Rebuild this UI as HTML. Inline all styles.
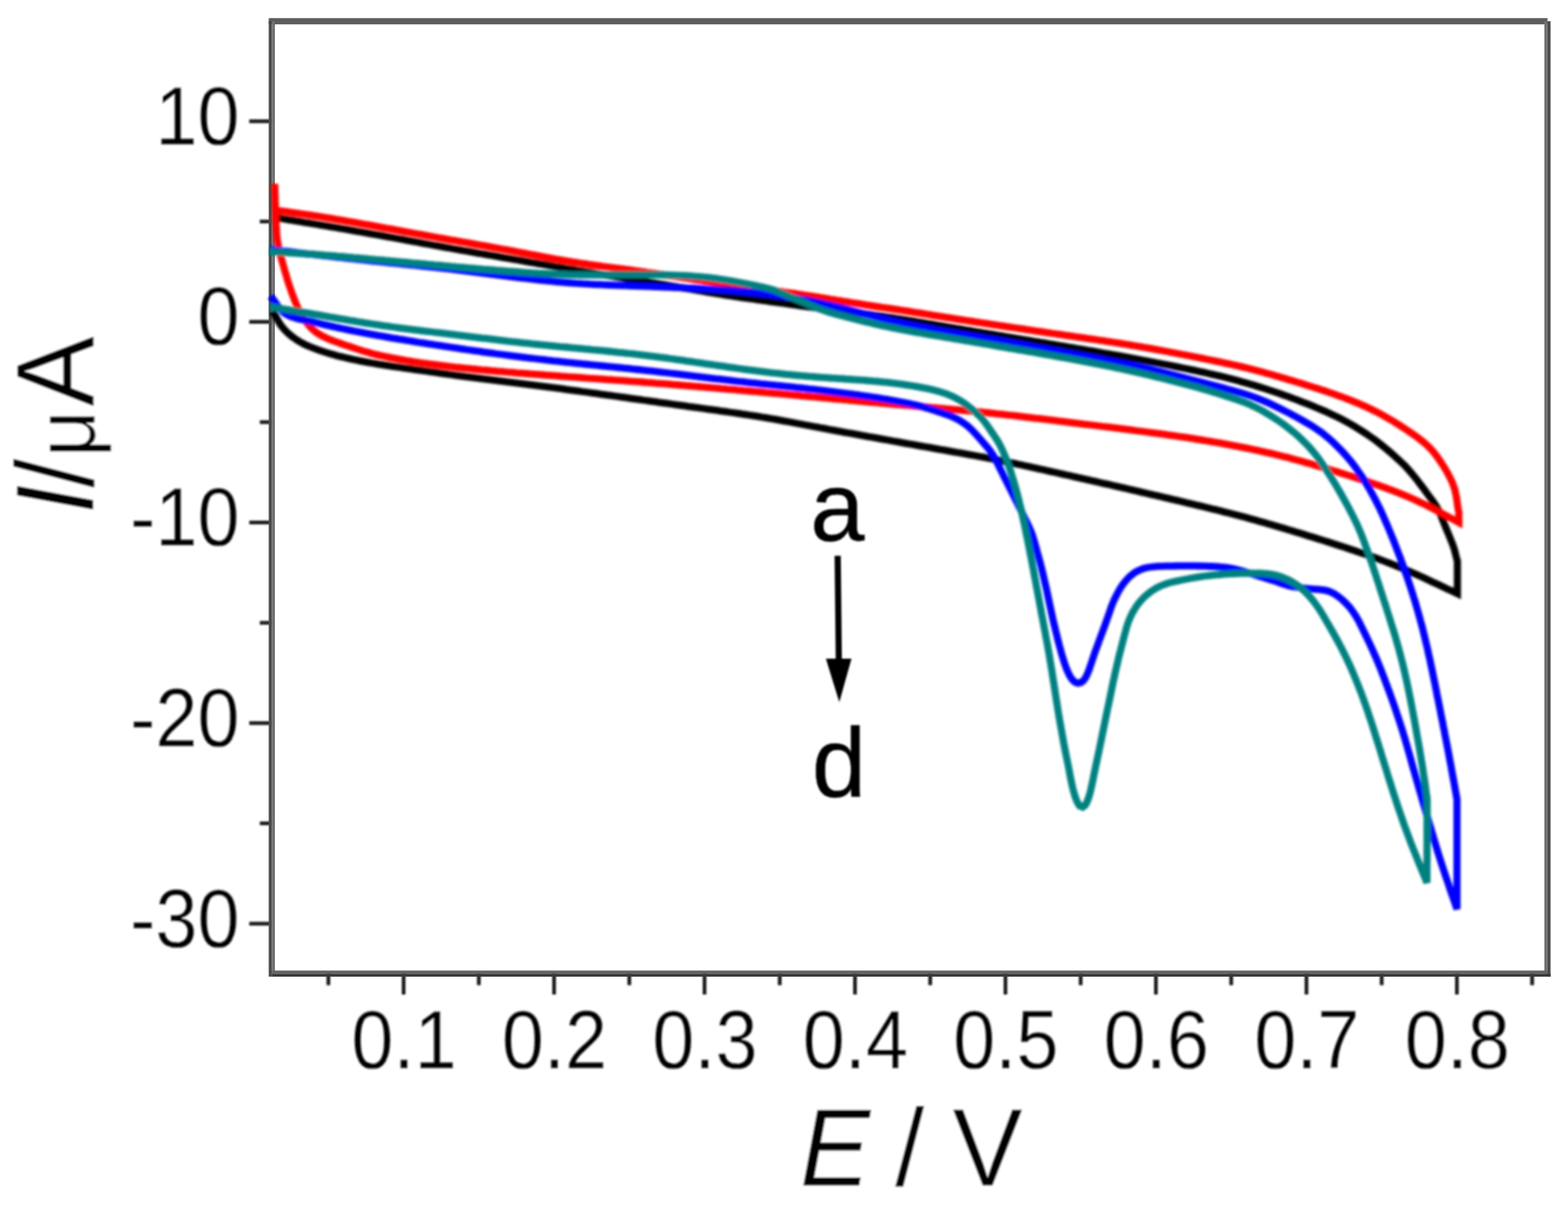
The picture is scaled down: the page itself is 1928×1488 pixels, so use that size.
<!DOCTYPE html>
<html lang="en">
<head>
<meta charset="utf-8">
<title>Cyclic voltammograms</title>
<style>
html,body{margin:0;padding:0;background:#fff;}
body{width:1928px;height:1488px;overflow:hidden;font-family:"Liberation Sans",sans-serif;}
svg{display:block;}
</style>
</head>
<body>
<svg width="1928" height="1488" viewBox="0 0 1928 1488">
<defs><filter id="bk" filterUnits="userSpaceOnUse" x="0" y="0" width="1928" height="1488"><feGaussianBlur stdDeviation="0.90"/></filter><filter id="bc" filterUnits="userSpaceOnUse" x="0" y="0" width="1928" height="1488"><feGaussianBlur stdDeviation="1.40"/></filter><filter id="bt" filterUnits="userSpaceOnUse" x="0" y="0" width="1928" height="1488"><feGaussianBlur stdDeviation="1.20"/></filter></defs>
<rect x="0" y="0" width="1928" height="1488" fill="#fff"/>
<g id="ticks" filter="url(#bk)" stroke="#1c1c1c" fill="none" stroke-width="4.6">
<line x1="496.3" y1="1197.3" x2="496.3" y2="1223.0"/>
<line x1="681.3" y1="1197.3" x2="681.3" y2="1223.0"/>
<line x1="866.3" y1="1197.3" x2="866.3" y2="1223.0"/>
<line x1="1051.3" y1="1197.3" x2="1051.3" y2="1223.0"/>
<line x1="1236.3" y1="1197.3" x2="1236.3" y2="1223.0"/>
<line x1="1421.3" y1="1197.3" x2="1421.3" y2="1223.0"/>
<line x1="1606.4" y1="1197.3" x2="1606.4" y2="1223.0"/>
<line x1="1791.4" y1="1197.3" x2="1791.4" y2="1223.0"/>
<line x1="403.8" y1="1197.3" x2="403.8" y2="1211.5"/>
<line x1="588.8" y1="1197.3" x2="588.8" y2="1211.5"/>
<line x1="773.8" y1="1197.3" x2="773.8" y2="1211.5"/>
<line x1="958.8" y1="1197.3" x2="958.8" y2="1211.5"/>
<line x1="1143.8" y1="1197.3" x2="1143.8" y2="1211.5"/>
<line x1="1328.8" y1="1197.3" x2="1328.8" y2="1211.5"/>
<line x1="1513.9" y1="1197.3" x2="1513.9" y2="1211.5"/>
<line x1="1698.9" y1="1197.3" x2="1698.9" y2="1211.5"/>
<line x1="1883.9" y1="1197.3" x2="1883.9" y2="1211.5"/>
<line x1="334.2" y1="149.1" x2="306.5" y2="149.1"/>
<line x1="334.2" y1="395.8" x2="306.5" y2="395.8"/>
<line x1="334.2" y1="642.5" x2="306.5" y2="642.5"/>
<line x1="334.2" y1="889.2" x2="306.5" y2="889.2"/>
<line x1="334.2" y1="1135.9" x2="306.5" y2="1135.9"/>
<line x1="334.2" y1="272.4" x2="319.5" y2="272.4"/>
<line x1="334.2" y1="519.1" x2="319.5" y2="519.1"/>
<line x1="334.2" y1="765.9" x2="319.5" y2="765.9"/>
<line x1="334.2" y1="1012.5" x2="319.5" y2="1012.5"/>
</g>
<g id="frame">
<rect x="330.45" y="22.30" width="1572.30" height="7.60" fill="#5c5c5c"/>
<rect x="330.45" y="26.10" width="3.80" height="1175.00" fill="#4a4a4a"/>
<rect x="334.25" y="26.10" width="3.80" height="1171.20" fill="#707070"/>
<rect x="1898.95" y="26.10" width="3.80" height="1171.20" fill="#707070"/>
<rect x="1902.75" y="26.10" width="3.80" height="1175.00" fill="#4a4a4a"/>
<rect x="334.25" y="1193.50" width="1568.50" height="3.80" fill="#646464"/>
<rect x="334.25" y="1197.30" width="1572.30" height="3.80" fill="#3a3a3a"/>
</g>
<g id="curves" filter="url(#bc)" fill="none" stroke-width="8.8" stroke-linejoin="miter" stroke-miterlimit="3" stroke-linecap="butt">
<path stroke="#000000" d="M335 383L337.2 386.3L339.3 389.8L341.2 393.3L343.2 396.7L345.4 400.1L347.9 403.2L350.6 406.2L353.4 409L356.4 411.6L359.5 414.2L362.8 416.5L366.1 418.7L369.5 420.8L373.1 422.7L376.7 424.4L380.3 426L384 427.5L387.8 429L391.5 430.3L395.3 431.7L399.1 432.9L402.9 434.1L406.8 435.2L410.6 436.3L414.5 437.4L418.4 438.4L422.3 439.3L426.2 440.2L430.1 441.1L434 442L437.9 442.8L441.8 443.6L445.7 444.3L449.7 445.1L453.6 445.8L457.6 446.5L461.5 447.1L465.4 447.8L469.4 448.4L473.3 449.1L477.3 449.7L481.3 450.3L485.2 450.9L489.2 451.4L493.1 452L497.1 452.6L501.1 453.1L505 453.7L509 454.3L513 454.8L516.9 455.4L520.9 456L524.8 456.5L528.8 457.1L532.8 457.6L536.7 458.2L540.7 458.8L544.6 459.3L548.6 459.9L552.6 460.5L556.5 461L560.5 461.6L564.5 462.1L568.4 462.6L572.4 463.2L576.4 463.7L580.3 464.2L584.3 464.7L588.3 465.2L592.2 465.7L596.2 466.2L600.2 466.7L604.2 467.2L608.1 467.7L612.1 468.2L616.1 468.7L620.1 469.2L624 469.6L628 470.1L632 470.6L635.9 471.1L639.9 471.6L643.9 472.1L647.9 472.6L651.8 473.1L655.8 473.6L659.8 474.1L663.7 474.6L667.7 475.1L671.7 475.6L675.6 476.1L679.6 476.7L683.6 477.2L687.5 477.7L691.5 478.2L695.5 478.8L699.4 479.3L703.4 479.8L707.4 480.4L711.3 480.9L715.3 481.5L719.3 482L723.2 482.5L727.2 483.1L731.2 483.6L735.1 484.2L739.1 484.8L743.1 485.3L747 485.9L751 486.4L755 487L758.9 487.5L762.9 488.1L766.8 488.6L770.8 489.2L774.8 489.8L778.7 490.3L782.7 490.9L786.7 491.4L790.6 492L794.6 492.5L798.5 493.1L802.5 493.7L806.5 494.2L810.4 494.8L814.4 495.3L818.4 495.9L822.3 496.4L826.3 497L830.3 497.6L834.2 498.1L838.2 498.7L842.1 499.2L846.1 499.8L850.1 500.3L854 500.9L858 501.4L862 502L865.9 502.5L869.9 503.1L873.9 503.6L877.8 504.2L881.8 504.7L885.7 505.3L889.7 505.8L893.7 506.4L897.6 507L901.6 507.5L905.6 508.1L909.5 508.7L913.5 509.3L917.4 509.9L921.4 510.5L925.3 511.1L929.3 511.7L933.3 512.3L937.2 513L941.2 513.6L945.1 514.3L949 515L953 515.7L956.9 516.4L960.9 517.1L964.8 517.8L968.7 518.5L972.7 519.3L976.6 520L980.5 520.8L984.5 521.5L988.4 522.3L992.3 523L996.3 523.7L1000.2 524.5L1004.1 525.2L1008.1 526L1012 526.7L1015.9 527.4L1019.9 528.2L1023.8 528.9L1027.7 529.6L1031.7 530.3L1035.6 531.1L1039.5 531.8L1043.5 532.5L1047.4 533.2L1051.4 533.9L1055.3 534.6L1059.2 535.4L1063.2 536.1L1067.1 536.8L1071 537.5L1075 538.2L1078.9 538.9L1082.9 539.6L1086.8 540.3L1090.7 541L1094.7 541.7L1098.6 542.5L1102.6 543.2L1106.5 543.9L1110.4 544.6L1114.4 545.3L1118.3 546L1122.3 546.7L1126.2 547.4L1130.1 548.1L1134.1 548.8L1138 549.5L1142 550.2L1145.9 550.9L1149.8 551.6L1153.8 552.3L1157.7 553L1161.7 553.7L1165.6 554.4L1169.5 555.1L1173.5 555.8L1177.4 556.5L1181.4 557.2L1185.3 557.9L1189.2 558.6L1193.2 559.3L1197.1 560L1201.1 560.7L1205 561.5L1208.9 562.2L1212.9 563L1216.8 563.7L1220.7 564.5L1224.6 565.3L1228.6 566.1L1232.5 566.9L1236.4 567.7L1240.3 568.5L1244.2 569.3L1248.2 570.1L1252.1 571L1256 571.8L1259.9 572.7L1263.8 573.5L1267.7 574.4L1271.6 575.2L1275.5 576.1L1279.4 577L1283.3 577.8L1287.2 578.7L1291.1 579.6L1295.1 580.5L1299 581.3L1302.9 582.2L1306.8 583.1L1310.7 584L1314.6 584.8L1318.5 585.7L1322.4 586.6L1326.3 587.5L1330.2 588.4L1334.1 589.2L1338 590.1L1341.9 591L1345.8 591.9L1349.7 592.8L1353.6 593.7L1357.5 594.6L1361.4 595.4L1365.3 596.3L1369.2 597.2L1373.1 598.1L1377 599L1380.9 599.9L1384.8 600.8L1388.7 601.7L1392.6 602.6L1396.5 603.5L1400.4 604.4L1404.3 605.4L1408.2 606.3L1412.1 607.2L1416 608.1L1419.9 609L1423.8 609.9L1427.7 610.8L1431.6 611.7L1435.5 612.6L1439.4 613.6L1443.3 614.5L1447.2 615.4L1451.1 616.3L1455 617.2L1458.9 618.2L1462.8 619.1L1466.6 620L1470.5 621L1474.4 621.9L1478.3 622.8L1482.2 623.8L1486.1 624.7L1490 625.7L1493.9 626.6L1497.7 627.6L1501.6 628.6L1505.5 629.6L1509.4 630.5L1513.3 631.5L1517.1 632.5L1521 633.5L1524.9 634.6L1528.8 635.6L1532.6 636.6L1536.5 637.7L1540.3 638.7L1544.2 639.8L1548.1 640.9L1551.9 642L1555.8 643.1L1559.6 644.2L1563.4 645.3L1567.3 646.4L1571.1 647.5L1575 648.7L1578.8 649.8L1582.6 651L1586.5 652.1L1590.3 653.3L1594.1 654.5L1597.9 655.6L1601.8 656.8L1605.6 658L1609.4 659.2L1613.2 660.3L1617.1 661.5L1620.9 662.7L1624.7 663.9L1628.5 665.1L1632.3 666.3L1636.2 667.5L1640 668.8L1643.8 670L1647.6 671.2L1651.4 672.4L1655.2 673.7L1659 675L1662.8 676.2L1666.6 677.5L1670.4 678.8L1674.2 680.1L1677.9 681.4L1681.7 682.7L1685.5 684L1689.3 685.4L1693 686.7L1696.8 688.1L1700.5 689.5L1704.3 691L1708 692.4L1711.7 693.9L1715.5 695.3L1719.2 696.8L1722.9 698.4L1726.6 699.9L1730.2 701.5L1733.9 703.1L1737.6 704.7L1741.2 706.3L1744.9 708L1748.5 709.6L1752.1 711.3L1755.8 713L1759.4 714.7L1763 716.4L1766.7 718.1L1770.3 719.8L1773.9 721.5L1777.5 723.2L1781.1 724.9L1784.8 726.6L1788.4 728.3L1792 730L1792 726L1792 722L1792 718L1792 714L1792 710L1792 706L1792 702L1792 698L1792 694L1792 690L1790.9 686.1L1789.9 682.3L1789 678.4L1787.9 674.5L1786.6 670.7L1785.2 667L1783.7 663.3L1782.2 659.6L1780.7 655.9L1779.1 652.2L1777.6 648.5L1776.1 644.8L1774.6 641.1L1773.1 637.4L1771.6 633.7L1770 630L1768.2 626.4L1766.3 622.9L1764.1 619.6L1761.8 616.3L1759.4 613.1L1757 609.9L1754.7 606.7L1752.3 603.4L1749.9 600.2L1747.5 597L1745.1 593.8L1742.7 590.6L1740.2 587.5L1737.7 584.4L1735.1 581.3L1732.5 578.3L1729.8 575.3L1727.1 572.4L1724.2 569.6L1721.3 566.9L1718.4 564.2L1715.4 561.5L1712.4 558.8L1709.4 556.2L1706.4 553.6L1703.3 551L1700.2 548.5L1697.1 546L1693.9 543.5L1690.7 541.1L1687.5 538.8L1684.2 536.5L1680.9 534.2L1677.6 532L1674.2 529.8L1670.8 527.7L1667.4 525.6L1664 523.5L1660.6 521.5L1657.1 519.5L1653.6 517.6L1650 515.7L1646.5 513.9L1642.9 512.1L1639.3 510.4L1635.7 508.7L1632 507.1L1628.4 505.4L1624.7 503.9L1621 502.3L1617.3 500.7L1613.6 499.2L1609.9 497.7L1606.2 496.2L1602.5 494.8L1598.8 493.3L1595 491.9L1591.3 490.5L1587.5 489.1L1583.8 487.7L1580 486.4L1576.2 485L1572.5 483.7L1568.7 482.4L1564.9 481.1L1561.1 479.9L1557.3 478.6L1553.5 477.4L1549.7 476.2L1545.8 475L1542 473.8L1538.2 472.7L1534.3 471.6L1530.5 470.5L1526.7 469.4L1522.8 468.3L1518.9 467.3L1515.1 466.3L1511.2 465.3L1507.3 464.3L1503.4 463.3L1499.5 462.4L1495.6 461.5L1491.7 460.6L1487.8 459.7L1483.9 458.8L1480 457.9L1476.1 457.1L1472.2 456.2L1468.3 455.4L1464.4 454.6L1460.5 453.8L1456.6 453L1452.6 452.2L1448.7 451.4L1444.8 450.6L1440.9 449.8L1437 449L1433 448.2L1429.1 447.5L1425.2 446.7L1421.2 446L1417.3 445.2L1413.4 444.5L1409.5 443.7L1405.5 443L1401.6 442.2L1397.7 441.5L1393.7 440.8L1389.8 440.1L1385.9 439.4L1381.9 438.6L1378 437.9L1374 437.2L1370.1 436.5L1366.2 435.8L1362.2 435.1L1358.3 434.5L1354.3 433.8L1350.4 433.1L1346.5 432.4L1342.5 431.7L1338.6 431.1L1334.6 430.4L1330.7 429.7L1326.7 429L1322.8 428.4L1318.9 427.7L1314.9 427L1311 426.4L1307 425.7L1303.1 425L1299.1 424.4L1295.2 423.7L1291.2 423.1L1287.3 422.4L1283.4 421.7L1279.4 421.1L1275.5 420.4L1271.5 419.8L1267.6 419.1L1263.6 418.4L1259.7 417.8L1255.7 417.1L1251.8 416.5L1247.8 415.8L1243.9 415.2L1240 414.5L1236 413.9L1232.1 413.2L1228.1 412.5L1224.2 411.9L1220.2 411.2L1216.3 410.6L1212.3 409.9L1208.4 409.3L1204.4 408.6L1200.5 408L1196.5 407.3L1192.6 406.6L1188.7 406L1184.7 405.3L1180.8 404.7L1176.8 404L1172.9 403.3L1168.9 402.7L1165 402L1161 401.3L1157.1 400.7L1153.2 400L1149.2 399.3L1145.3 398.7L1141.3 398L1137.4 397.3L1133.4 396.7L1129.5 396L1125.5 395.4L1121.6 394.7L1117.6 394.1L1113.7 393.4L1109.8 392.8L1105.8 392.2L1101.8 391.6L1097.9 390.9L1093.9 390.3L1090 389.8L1086 389.2L1082.1 388.6L1078.1 388L1074.1 387.5L1070.2 386.9L1066.2 386.4L1062.3 385.9L1058.3 385.4L1054.3 384.8L1050.4 384.3L1046.4 383.8L1042.4 383.4L1038.4 382.9L1034.5 382.4L1030.5 381.9L1026.5 381.4L1022.6 380.9L1018.6 380.4L1014.6 379.9L1010.6 379.5L1006.7 378.9L1002.7 378.4L998.7 377.9L994.8 377.4L990.8 376.9L986.9 376.3L982.9 375.8L978.9 375.2L975 374.7L971 374.1L967 373.5L963.1 373L959.1 372.4L955.2 371.9L951.2 371.3L947.2 370.8L943.3 370.2L939.3 369.7L935.4 369.1L931.4 368.6L927.4 368L923.5 367.5L919.5 366.9L915.5 366.4L911.6 365.8L907.6 365.2L903.7 364.6L899.7 364L895.8 363.4L891.8 362.8L887.9 362.2L883.9 361.5L880 360.9L876 360.2L872.1 359.6L868.1 358.9L864.2 358.2L860.2 357.5L856.3 356.9L852.4 356.2L848.4 355.5L844.5 354.8L840.5 354.2L836.6 353.5L832.6 352.8L828.7 352.2L824.8 351.5L820.8 350.8L816.9 350.2L812.9 349.5L809 348.9L805 348.2L801.1 347.5L797.1 346.9L793.2 346.2L789.2 345.6L785.3 344.9L781.3 344.3L777.4 343.6L773.5 343L769.5 342.3L765.6 341.7L761.6 341L757.7 340.4L753.7 339.7L749.8 339.1L745.8 338.4L741.9 337.8L737.9 337.1L734 336.5L730 335.8L726.1 335.1L722.2 334.5L718.2 333.8L714.3 333.1L710.3 332.5L706.4 331.8L702.4 331.1L698.5 330.5L694.5 329.8L690.6 329.1L686.7 328.4L682.7 327.8L678.8 327.1L674.8 326.4L670.9 325.7L667 325L663 324.3L659.1 323.7L655.1 323L651.2 322.3L647.3 321.6L643.3 320.9L639.4 320.2L635.4 319.5L631.5 318.8L627.5 318.2L623.6 317.5L619.7 316.8L615.7 316.1L611.8 315.4L607.8 314.7L603.9 314L600 313.4L596 312.7L592.1 312L588.1 311.3L584.2 310.6L580.3 309.9L576.3 309.2L572.4 308.5L568.4 307.9L564.5 307.2L560.6 306.5L556.6 305.8L552.7 305L548.7 304.3L544.8 303.6L540.9 302.9L536.9 302.2L533 301.5L529.1 300.7L525.1 300L521.2 299.3L517.3 298.6L513.3 297.8L509.4 297.1L505.5 296.4L501.5 295.7L497.6 294.9L493.7 294.2L489.7 293.5L485.8 292.8L481.9 292L477.9 291.3L474 290.6L470.1 289.9L466.1 289.2L462.2 288.5L458.3 287.8L454.3 287.1L450.4 286.4L446.4 285.7L442.5 285L438.6 284.3L434.6 283.6L430.7 282.9L426.7 282.2L422.8 281.5L418.8 280.9L414.9 280.2L411 279.5L407 278.8L403.1 278.2L399.1 277.5L395.2 276.8L391.2 276.2L387.3 275.5L383.4 274.9L379.4 274.2L375.5 273.6L371.5 272.9L367.6 272.2L363.6 271.6L359.7 270.9L355.7 270.3L351.8 269.6L347.8 269L343.9 268.3L339.9 267.7L336 267.0"/>
<path stroke="#ff0000" d="M337.8 226L337.9 230L338 234L338.1 238L338.2 242L338.3 246L338.4 250L338.6 254L338.7 258L338.9 262L339.1 266L339.2 270L339.4 274L339.6 278L339.9 282L340.1 286L340.4 289.9L340.8 293.9L341.4 297.9L342.1 301.8L342.9 305.7L343.8 309.6L344.8 313.5L345.9 317.4L346.9 321.2L348 325.1L349.1 328.9L350.1 332.8L351.3 336.6L352.4 340.5L353.5 344.3L354.7 348.1L356 351.9L357.3 355.7L358.6 359.5L360 363.2L361.4 367L362.8 370.7L364.4 374.4L366 378.1L367.7 381.7L369.6 385.2L371.6 388.6L373.8 392L376.1 395.3L378.5 398.5L381 401.6L383.8 404.5L386.8 407.1L390 409.5L393.4 411.6L396.9 413.6L400.5 415.3L404.1 416.9L407.8 418.4L411.6 419.8L415.4 421.2L419.1 422.5L422.9 423.8L426.7 425.1L430.5 426.3L434.3 427.6L438.1 428.9L441.9 430.1L445.7 431.4L449.5 432.5L453.4 433.6L457.2 434.7L461.1 435.7L465 436.6L468.9 437.5L472.8 438.3L476.7 439.1L480.7 439.9L484.6 440.7L488.5 441.4L492.4 442.1L496.4 442.8L500.3 443.5L504.3 444.1L508.2 444.8L512.2 445.4L516.1 446L520.1 446.6L524.1 447.1L528 447.7L532 448.2L535.9 448.7L539.9 449.2L543.9 449.7L547.9 450.2L551.8 450.7L555.8 451.1L559.8 451.6L563.8 452L567.7 452.4L571.7 452.8L575.7 453.2L579.7 453.6L583.7 454L587.6 454.4L591.6 454.8L595.6 455.1L599.6 455.5L603.6 455.9L607.6 456.2L611.5 456.6L615.5 456.9L619.5 457.2L623.5 457.6L627.5 457.9L631.5 458.2L635.5 458.6L639.5 458.9L643.4 459.2L647.4 459.5L651.4 459.8L655.4 460.1L659.4 460.4L663.4 460.7L667.4 461L671.4 461.3L675.4 461.6L679.3 461.9L683.3 462.2L687.3 462.5L691.3 462.8L695.3 463.1L699.3 463.4L703.3 463.6L707.3 463.9L711.3 464.2L715.3 464.5L719.2 464.8L723.2 465.1L727.2 465.3L731.2 465.6L735.2 465.9L739.2 466.2L743.2 466.5L747.2 466.8L751.2 467L755.2 467.3L759.1 467.6L763.1 467.9L767.1 468.2L771.1 468.5L775.1 468.8L779.1 469.1L783.1 469.4L787.1 469.7L791.1 470L795 470.3L799 470.6L803 470.9L807 471.3L811 471.6L815 471.9L819 472.2L823 472.5L826.9 472.9L830.9 473.2L834.9 473.5L838.9 473.8L842.9 474.2L846.9 474.5L850.9 474.8L854.9 475.2L858.8 475.5L862.8 475.8L866.8 476.2L870.8 476.5L874.8 476.8L878.8 477.2L882.8 477.5L886.7 477.9L890.7 478.2L894.7 478.6L898.7 478.9L902.7 479.2L906.7 479.6L910.7 479.9L914.6 480.3L918.6 480.6L922.6 481L926.6 481.3L930.6 481.7L934.6 482L938.6 482.4L942.5 482.8L946.5 483.1L950.5 483.5L954.5 483.8L958.5 484.2L962.5 484.6L966.4 484.9L970.4 485.3L974.4 485.7L978.4 486L982.4 486.4L986.4 486.8L990.3 487.1L994.3 487.5L998.3 487.9L1002.3 488.2L1006.3 488.6L1010.3 489L1014.2 489.3L1018.2 489.7L1022.2 490.1L1026.2 490.5L1030.2 490.8L1034.2 491.2L1038.1 491.6L1042.1 491.9L1046.1 492.3L1050.1 492.7L1054.1 493L1058.1 493.4L1062 493.8L1066 494.1L1070 494.5L1074 494.9L1078 495.2L1082 495.6L1085.9 495.9L1089.9 496.3L1093.9 496.6L1097.9 497L1101.9 497.3L1105.9 497.7L1109.9 498L1113.8 498.4L1117.8 498.7L1121.8 499.1L1125.8 499.4L1129.8 499.8L1133.8 500.1L1137.8 500.5L1141.7 500.8L1145.7 501.2L1149.7 501.5L1153.7 501.9L1157.7 502.2L1161.7 502.6L1165.6 502.9L1169.6 503.3L1173.6 503.7L1177.6 504L1181.6 504.4L1185.6 504.8L1189.5 505.1L1193.5 505.5L1197.5 505.9L1201.5 506.3L1205.5 506.7L1209.5 507.1L1213.4 507.5L1217.4 507.9L1221.4 508.3L1225.4 508.8L1229.3 509.2L1233.3 509.6L1237.3 510.1L1241.3 510.5L1245.2 511L1249.2 511.4L1253.2 511.9L1257.2 512.4L1261.1 512.8L1265.1 513.3L1269.1 513.8L1273.1 514.3L1277 514.7L1281 515.2L1285 515.7L1288.9 516.2L1292.9 516.7L1296.9 517.2L1300.9 517.7L1304.8 518.1L1308.8 518.6L1312.8 519.1L1316.7 519.6L1320.7 520.1L1324.7 520.6L1328.6 521.1L1332.6 521.6L1336.6 522L1340.6 522.5L1344.5 523L1348.5 523.5L1352.5 524L1356.4 524.5L1360.4 525L1364.4 525.4L1368.4 525.9L1372.3 526.4L1376.3 526.9L1380.3 527.4L1384.2 527.9L1388.2 528.4L1392.2 528.9L1396.1 529.5L1400.1 530L1404.1 530.5L1408 531L1412 531.5L1416 532.1L1419.9 532.6L1423.9 533.1L1427.9 533.7L1431.8 534.2L1435.8 534.8L1439.7 535.3L1443.7 535.9L1447.7 536.5L1451.6 537.1L1455.6 537.6L1459.5 538.2L1463.5 538.8L1467.4 539.4L1471.4 540.1L1475.3 540.7L1479.3 541.3L1483.2 542L1487.2 542.6L1491.1 543.3L1495.1 544L1499 544.7L1503 545.4L1506.9 546.1L1510.8 546.8L1514.8 547.6L1518.7 548.3L1522.6 549.1L1526.5 549.8L1530.5 550.6L1534.4 551.4L1538.3 552.2L1542.2 553.1L1546.1 553.9L1550 554.7L1553.9 555.6L1557.8 556.5L1561.7 557.4L1565.6 558.3L1569.5 559.2L1573.4 560.2L1577.3 561.2L1581.2 562.1L1585 563.1L1588.9 564.2L1592.8 565.2L1596.6 566.2L1600.5 567.3L1604.3 568.4L1608.2 569.5L1612 570.6L1615.9 571.7L1619.7 572.9L1623.5 574L1627.4 575.2L1631.2 576.3L1635 577.5L1638.8 578.7L1642.7 579.8L1646.5 581L1650.3 582.2L1654.1 583.4L1657.9 584.6L1661.8 585.8L1665.6 587.1L1669.4 588.3L1673.2 589.5L1677 590.8L1680.8 592L1684.6 593.3L1688.3 594.6L1692.1 595.9L1695.9 597.2L1699.7 598.6L1703.4 599.9L1707.2 601.3L1710.9 602.7L1714.7 604.2L1718.4 605.6L1722.1 607.1L1725.8 608.6L1729.5 610.2L1733.2 611.7L1736.8 613.3L1740.5 615L1744.1 616.7L1747.7 618.4L1751.3 620.1L1754.9 621.9L1758.5 623.7L1762 625.6L1765.6 627.4L1769.1 629.3L1772.7 631.1L1776.2 633L1779.7 634.9L1783.2 636.8L1786.8 638.7L1790.3 640.6L1793.8 642.5L1793.8 638.3L1793.8 634.2L1793.8 630L1793 626.1L1792.3 622.1L1791.8 618.2L1791.2 614.2L1790.6 610.3L1789.8 606.4L1788.9 602.5L1787.7 598.7L1786.3 594.9L1784.8 591.2L1783 587.6L1781.2 584.1L1779.3 580.6L1777.2 577.1L1775.2 573.7L1773 570.3L1770.8 567L1768.6 563.7L1766.2 560.5L1763.8 557.3L1761.2 554.2L1758.5 551.3L1755.7 548.5L1752.7 545.8L1749.7 543.2L1746.6 540.7L1743.4 538.3L1740.2 535.9L1736.9 533.6L1733.6 531.3L1730.3 529.1L1727 526.9L1723.6 524.7L1720.3 522.5L1716.9 520.4L1713.5 518.3L1710 516.3L1706.6 514.2L1703.1 512.3L1699.6 510.3L1696.1 508.4L1692.6 506.6L1689 504.8L1685.4 503L1681.8 501.3L1678.2 499.6L1674.5 498L1670.9 496.4L1667.2 494.9L1663.5 493.4L1659.7 491.9L1656 490.4L1652.3 489L1648.5 487.6L1644.8 486.3L1641 484.9L1637.2 483.6L1633.5 482.3L1629.7 481L1625.9 479.8L1622.1 478.5L1618.3 477.3L1614.5 476.1L1610.7 474.9L1606.9 473.7L1603 472.5L1599.2 471.3L1595.4 470.1L1591.6 469L1587.7 467.8L1583.9 466.7L1580.1 465.5L1576.2 464.4L1572.4 463.3L1568.6 462.2L1564.7 461.1L1560.9 460L1557 458.9L1553.2 457.8L1549.3 456.8L1545.5 455.8L1541.6 454.8L1537.7 453.8L1533.8 452.8L1530 451.9L1526.1 450.9L1522.2 450L1518.3 449.1L1514.4 448.3L1510.5 447.4L1506.6 446.6L1502.7 445.7L1498.7 444.9L1494.8 444.1L1490.9 443.3L1487 442.5L1483.1 441.7L1479.2 440.9L1475.3 440.1L1471.3 439.3L1467.4 438.6L1463.5 437.8L1459.6 437L1455.6 436.2L1451.7 435.5L1447.8 434.7L1443.9 434L1439.9 433.2L1436 432.5L1432.1 431.8L1428.2 431L1424.2 430.3L1420.3 429.6L1416.4 428.9L1412.4 428.2L1408.5 427.5L1404.5 426.8L1400.6 426.1L1396.7 425.5L1392.7 424.8L1388.8 424.2L1384.8 423.5L1380.9 422.9L1376.9 422.2L1373 421.6L1369 421L1365.1 420.4L1361.1 419.8L1357.2 419.2L1353.2 418.6L1349.3 418L1345.3 417.4L1341.4 416.9L1337.4 416.3L1333.5 415.7L1329.5 415.1L1325.6 414.6L1321.6 414L1317.6 413.4L1313.7 412.8L1309.7 412.3L1305.8 411.7L1301.8 411.1L1297.9 410.5L1293.9 410L1290 409.4L1286 408.8L1282 408.2L1278.1 407.6L1274.1 407.1L1270.2 406.5L1266.2 405.9L1262.3 405.3L1258.3 404.7L1254.4 404.1L1250.4 403.5L1246.5 403L1242.5 402.4L1238.6 401.8L1234.6 401.2L1230.6 400.6L1226.7 400L1222.7 399.4L1218.8 398.8L1214.8 398.2L1210.9 397.6L1206.9 397L1203 396.4L1199 395.8L1195.1 395.2L1191.1 394.6L1187.2 394L1183.2 393.4L1179.3 392.8L1175.3 392.2L1171.4 391.5L1167.4 390.9L1163.5 390.3L1159.5 389.7L1155.6 389L1151.6 388.4L1147.7 387.8L1143.8 387.1L1139.8 386.5L1135.9 385.9L1131.9 385.2L1128 384.6L1124 384L1120.1 383.4L1116.1 382.7L1112.2 382.1L1108.2 381.5L1104.3 380.9L1100.3 380.3L1096.4 379.7L1092.4 379.1L1088.5 378.5L1084.5 378L1080.6 377.4L1076.6 376.8L1072.6 376.2L1068.7 375.6L1064.7 375L1060.8 374.4L1056.8 373.7L1052.9 373.1L1048.9 372.5L1045 371.9L1041.1 371.2L1037.1 370.6L1033.2 369.9L1029.2 369.3L1025.3 368.6L1021.3 368L1017.4 367.3L1013.4 366.7L1009.5 366.1L1005.6 365.4L1001.6 364.8L997.7 364.2L993.7 363.6L989.8 363L985.8 362.4L981.9 361.8L977.9 361.2L973.9 360.6L970 360L966 359.5L962.1 358.9L958.1 358.3L954.2 357.8L950.2 357.2L946.2 356.7L942.3 356.1L938.3 355.6L934.4 355L930.4 354.5L926.4 353.9L922.5 353.4L918.5 352.9L914.6 352.3L910.6 351.8L906.6 351.2L902.7 350.7L898.7 350.1L894.8 349.6L890.8 349L886.9 348.4L882.9 347.9L878.9 347.3L875 346.7L871 346.1L867.1 345.6L863.1 345L859.2 344.4L855.2 343.8L851.3 343.2L847.3 342.6L843.4 342L839.4 341.4L835.5 340.8L831.5 340.2L827.6 339.6L823.6 339L819.6 338.4L815.7 337.8L811.7 337.3L807.8 336.7L803.8 336.1L799.9 335.5L795.9 335L792 334.4L788 333.9L784 333.3L780.1 332.8L776.1 332.2L772.2 331.7L768.2 331.2L764.2 330.6L760.3 330.1L756.3 329.6L752.4 329.1L748.4 328.5L744.4 328L740.5 327.5L736.5 326.9L732.5 326.4L728.6 325.8L724.6 325.3L720.7 324.7L716.7 324.1L712.8 323.5L708.8 322.9L704.9 322.3L700.9 321.6L697 321L693 320.3L689.1 319.7L685.2 319L681.2 318.3L677.3 317.6L673.4 316.9L669.4 316.1L665.5 315.4L661.6 314.6L657.6 313.9L653.7 313.2L649.8 312.4L645.9 311.7L641.9 310.9L638 310.2L634.1 309.4L630.2 308.7L626.2 307.9L622.3 307.2L618.4 306.5L614.4 305.7L610.5 305L606.6 304.3L602.6 303.6L598.7 302.9L594.8 302.2L590.8 301.5L586.9 300.8L583 300.1L579 299.4L575.1 298.7L571.2 298L567.2 297.3L563.3 296.6L559.4 295.9L555.4 295.3L551.5 294.6L547.5 293.9L543.6 293.2L539.7 292.5L535.7 291.7L531.8 291L527.9 290.3L523.9 289.6L520 288.9L516.1 288.2L512.1 287.5L508.2 286.8L504.3 286L500.3 285.3L496.4 284.6L492.5 283.9L488.5 283.2L484.6 282.4L480.7 281.7L476.8 281L472.8 280.3L468.9 279.6L465 278.8L461 278.1L457.1 277.4L453.2 276.7L449.2 276L445.3 275.3L441.4 274.6L437.4 273.9L433.5 273.2L429.6 272.5L425.6 271.8L421.7 271.1L417.7 270.4L413.8 269.8L409.9 269.1L405.9 268.4L402 267.8L398 267.2L394.1 266.5L390.1 265.9L386.2 265.3L382.2 264.7L378.3 264.1L374.3 263.5L370.4 263L366.4 262.4L362.4 261.8L358.5 261.3L354.5 260.7L350.6 260.2L346.6 259.6L342.7 259.1L338.7 258.5"/>
<path stroke="#0000ff" d="M332.5 364.5L335.2 367.4L337.7 370.6L340 373.9L342.3 377.1L344.8 380.3L347.6 383.1L350.7 385.6L354.1 387.7L357.8 389.3L361.6 390.6L365.4 391.7L369.3 392.6L373.2 393.4L377.2 394.2L381.1 395L385 395.9L388.9 396.8L392.8 397.7L396.7 398.7L400.6 399.6L404.5 400.5L408.4 401.4L412.3 402.3L416.2 403.1L420.1 404L424 404.8L427.9 405.6L431.8 406.4L435.8 407.2L439.7 407.9L443.6 408.7L447.6 409.4L451.5 410.2L455.4 410.9L459.4 411.6L463.3 412.3L467.2 413L471.2 413.7L475.1 414.4L479.1 415.1L483 415.8L487 416.4L490.9 417.1L494.8 417.7L498.8 418.4L502.7 419L506.7 419.7L510.6 420.3L514.6 421L518.6 421.6L522.5 422.2L526.5 422.8L530.4 423.4L534.4 424L538.3 424.6L542.3 425.2L546.2 425.8L550.2 426.4L554.1 427L558.1 427.6L562.1 428.2L566 428.8L570 429.4L573.9 430L577.9 430.5L581.9 431.1L585.8 431.7L589.8 432.2L593.8 432.8L597.7 433.3L601.7 433.9L605.6 434.4L609.6 435L613.6 435.5L617.5 436L621.5 436.5L625.5 437.1L629.4 437.6L633.4 438.1L637.4 438.6L641.4 439.1L645.3 439.6L649.3 440.1L653.3 440.5L657.3 441L661.2 441.5L665.2 442L669.2 442.4L673.1 442.9L677.1 443.3L681.1 443.8L685.1 444.2L689.1 444.7L693 445.1L697 445.5L701 446L705 446.4L708.9 446.8L712.9 447.2L716.9 447.6L720.9 448L724.9 448.4L728.9 448.8L732.8 449.2L736.8 449.6L740.8 450L744.8 450.4L748.8 450.8L752.7 451.2L756.7 451.6L760.7 452L764.7 452.4L768.7 452.8L772.7 453.2L776.6 453.7L780.6 454.1L784.6 454.5L788.6 454.9L792.6 455.4L796.5 455.8L800.5 456.2L804.5 456.7L808.5 457.1L812.4 457.6L816.4 458L820.4 458.5L824.4 459L828.3 459.5L832.3 459.9L836.3 460.4L840.3 460.9L844.2 461.4L848.2 461.9L852.2 462.4L856.1 462.8L860.1 463.3L864.1 463.8L868.1 464.3L872 464.8L876 465.3L880 465.8L883.9 466.2L887.9 466.7L891.9 467.2L895.9 467.6L899.8 468.1L903.8 468.6L907.8 469L911.8 469.5L915.7 469.9L919.7 470.4L923.7 470.8L927.7 471.2L931.7 471.6L935.6 472.1L939.6 472.5L943.6 472.9L947.6 473.3L951.6 473.7L955.5 474.1L959.5 474.5L963.5 474.9L967.5 475.3L971.5 475.7L975.5 476.1L979.4 476.6L983.4 477L987.4 477.4L991.4 477.8L995.3 478.3L999.3 478.7L1003.3 479.2L1007.3 479.6L1011.2 480.1L1015.2 480.6L1019.2 481.1L1023.2 481.6L1027.1 482.1L1031.1 482.6L1035.1 483.1L1039 483.6L1043 484.1L1047 484.6L1050.9 485.2L1054.9 485.7L1058.9 486.3L1062.8 486.9L1066.8 487.4L1070.7 488L1074.7 488.6L1078.7 489.2L1082.6 489.9L1086.6 490.5L1090.5 491.2L1094.4 491.9L1098.4 492.5L1102.3 493.3L1106.3 494L1110.2 494.7L1114.1 495.5L1118 496.3L1122 497.2L1125.8 498.1L1129.7 499.1L1133.6 500.1L1137.4 501.2L1141.3 502.3L1145.1 503.5L1148.9 504.7L1152.7 506L1156.5 507.2L1160.3 508.5L1164.1 509.8L1167.8 511.2L1171.5 512.7L1175.2 514.4L1178.7 516.3L1182.1 518.4L1185.4 520.6L1188.6 523L1191.7 525.6L1194.6 528.3L1197.4 531.2L1200.1 534.1L1202.8 537.2L1205.4 540.2L1208 543.2L1210.6 546.2L1213.3 549.2L1215.8 552.3L1218.3 555.5L1220.5 558.8L1222.6 562.2L1224.5 565.7L1226.3 569.3L1228 572.9L1229.8 576.5L1231.6 580.1L1233.3 583.7L1235.1 587.3L1236.9 590.8L1238.7 594.4L1240.5 598L1242.3 601.5L1244.1 605.1L1245.9 608.7L1247.7 612.3L1249.5 615.9L1251.3 619.5L1253 623L1254.8 626.6L1256.6 630.2L1258.3 633.8L1260.1 637.4L1261.9 641L1263.6 644.6L1265.3 648.2L1267 651.9L1268.5 655.6L1269.8 659.3L1271 663.2L1272.1 667L1273.2 670.9L1274.3 674.7L1275.3 678.6L1276.4 682.4L1277.4 686.3L1278.5 690.2L1279.5 694L1280.5 697.9L1281.5 701.8L1282.4 705.7L1283.3 709.6L1284.2 713.5L1285.1 717.4L1286 721.3L1286.9 725.2L1287.7 729.1L1288.5 733L1289.4 736.9L1290.2 740.8L1291 744.7L1291.9 748.7L1292.7 752.6L1293.6 756.5L1294.4 760.4L1295.3 764.3L1296.2 768.2L1297.2 772.1L1298.1 776L1299.1 779.9L1300 783.7L1301 787.6L1302 791.5L1303 795.4L1304.1 799.2L1305.1 803.1L1306.2 806.9L1307.4 810.8L1308.6 814.6L1309.9 818.4L1311.2 822.1L1312.8 825.8L1314.5 829.5L1316.4 832.9L1318.8 836.2L1321.8 838.8L1325.5 840.2L1329.3 839.2L1332.4 836.7L1334.7 833.4L1336.5 829.9L1338.1 826.2L1339.5 822.5L1340.8 818.7L1342.1 814.9L1343.3 811.1L1344.6 807.3L1345.9 803.5L1347.2 799.7L1348.6 796L1350 792.2L1351.3 788.4L1352.7 784.7L1354.1 780.9L1355.5 777.2L1356.9 773.4L1358.3 769.7L1359.6 765.9L1361 762.1L1362.3 758.4L1363.6 754.6L1364.9 750.8L1366.2 747L1367.6 743.3L1369.2 739.6L1370.8 735.9L1372.6 732.4L1374.5 728.8L1376.4 725.3L1378.5 721.9L1380.8 718.6L1383.2 715.4L1385.8 712.4L1388.6 709.5L1391.6 706.9L1394.8 704.5L1398.2 702.4L1401.8 700.7L1405.6 699.3L1409.4 698.2L1413.4 697.5L1417.3 697L1421.3 696.6L1425.3 696.4L1429.3 696.3L1433.3 696.2L1437.3 696.1L1441.3 696.1L1445.3 696L1449.3 695.9L1453.3 695.9L1457.3 695.8L1461.3 695.8L1465.3 695.9L1469.3 695.9L1473.3 696L1477.3 696.1L1481.3 696.2L1485.3 696.3L1489.3 696.5L1493.3 696.7L1497.3 697L1501.3 697.3L1505.3 697.7L1509.3 698.2L1513.2 698.8L1517.1 699.6L1521 700.5L1524.9 701.5L1528.8 702.6L1532.6 703.7L1536.4 704.9L1540.2 706.1L1544.1 707.3L1547.9 708.5L1551.7 709.6L1555.5 710.8L1559.4 712L1563.2 713.2L1567 714.4L1570.8 715.7L1574.5 717.1L1578.3 718.4L1582.1 719.6L1586 720.6L1589.9 721.4L1593.9 722L1597.9 722.5L1601.8 723L1605.8 723.5L1609.8 724L1613.8 724.3L1617.7 724.6L1621.7 724.9L1625.7 725.3L1629.7 725.9L1633.5 727L1637.2 728.5L1640.8 730.3L1644.1 732.5L1647.3 734.9L1650.4 737.5L1653.3 740.2L1656.1 743.1L1658.8 746L1661.3 749.1L1663.7 752.4L1665.9 755.7L1668 759.1L1670 762.6L1671.8 766.1L1673.6 769.7L1675.4 773.3L1677.1 776.9L1678.9 780.5L1680.6 784.1L1682.3 787.7L1684.1 791.3L1685.7 795L1687.4 798.6L1689 802.3L1690.6 805.9L1692.2 809.6L1693.8 813.3L1695.3 817L1696.8 820.7L1698.3 824.4L1699.7 828.1L1701.2 831.9L1702.6 835.6L1704 839.4L1705.4 843.1L1706.8 846.9L1708.2 850.6L1709.6 854.4L1710.9 858.2L1712.2 861.9L1713.6 865.7L1714.9 869.5L1716.2 873.3L1717.5 877.1L1718.7 880.8L1720 884.6L1721.2 888.4L1722.5 892.3L1723.7 896.1L1724.9 899.9L1726 903.7L1727.2 907.6L1728.3 911.4L1729.4 915.2L1730.5 919.1L1731.6 922.9L1732.7 926.8L1733.8 930.6L1734.9 934.5L1735.9 938.3L1737 942.2L1738.1 946.1L1739.2 949.9L1740.3 953.8L1741.4 957.6L1742.5 961.4L1743.6 965.3L1744.7 969.1L1745.8 973L1747 976.8L1748.1 980.7L1749.2 984.5L1750.3 988.3L1751.5 992.2L1752.6 996L1753.7 999.9L1754.9 1003.7L1756 1007.5L1757.1 1011.4L1758.2 1015.2L1759.4 1019.1L1760.5 1022.9L1761.6 1026.7L1762.8 1030.6L1763.9 1034.4L1765.1 1038.2L1766.3 1042.1L1767.4 1045.9L1768.6 1049.7L1769.8 1053.5L1771 1057.3L1772.2 1061.1L1773.5 1065L1774.7 1068.8L1776 1072.6L1777.2 1076.4L1778.5 1080.2L1779.8 1083.9L1781.1 1087.7L1782.3 1091.5L1783.6 1095.3L1784.9 1099.1L1786.3 1102.9L1787.6 1106.7L1788.9 1110.4L1790.2 1114.2L1791.5 1118L1791.5 1114L1791.5 1110.1L1791.5 1106.1L1791.5 1102.1L1791.5 1098.1L1791.5 1094.2L1791.5 1090.2L1791.5 1086.2L1791.5 1082.3L1791.5 1078.3L1791.5 1074.3L1791.5 1070.4L1791.5 1066.4L1791.5 1062.4L1791.5 1058.4L1791.5 1054.5L1791.5 1050.5L1791.5 1046.5L1791.5 1042.6L1791.5 1038.6L1791.5 1034.6L1791.5 1030.6L1791.5 1026.7L1791.5 1022.7L1791.5 1018.7L1791.5 1014.8L1791.5 1010.8L1791.5 1006.8L1791.5 1002.9L1791.5 998.9L1791.5 994.9L1791.5 990.9L1791.5 987L1791.5 983L1790.8 979.1L1790.1 975.1L1789.4 971.2L1788.7 967.3L1788 963.3L1787.3 959.4L1786.5 955.5L1785.8 951.5L1785.1 947.6L1784.4 943.7L1783.7 939.7L1782.9 935.8L1782.2 931.9L1781.5 927.9L1780.7 924L1780 920.1L1779.2 916.2L1778.5 912.2L1777.7 908.3L1776.9 904.4L1776.2 900.5L1775.4 896.5L1774.6 892.6L1773.9 888.7L1773.1 884.8L1772.3 880.8L1771.5 876.9L1770.8 873L1770 869.1L1769.2 865.2L1768.4 861.2L1767.6 857.3L1766.8 853.4L1766.1 849.5L1765.3 845.6L1764.5 841.6L1763.7 837.7L1762.9 833.8L1762.1 829.9L1761.3 826L1760.5 822.1L1759.6 818.2L1758.8 814.2L1758 810.3L1757.1 806.4L1756.2 802.5L1755.4 798.6L1754.5 794.7L1753.5 790.8L1752.6 787L1751.7 783.1L1750.7 779.2L1749.8 775.3L1748.8 771.4L1747.8 767.6L1746.7 763.7L1745.7 759.8L1744.6 756L1743.6 752.1L1742.4 748.3L1741.3 744.5L1740.2 740.6L1739 736.8L1737.8 733L1736.6 729.2L1735.4 725.4L1734.2 721.6L1732.9 717.8L1731.6 714L1730.4 710.2L1729 706.4L1727.7 702.7L1726.4 698.9L1725 695.1L1723.6 691.4L1722.3 687.6L1720.9 683.9L1719.4 680.1L1718 676.4L1716.6 672.7L1715.1 668.9L1713.7 665.2L1712.2 661.5L1710.7 657.8L1709.2 654.1L1707.6 650.4L1706.1 646.7L1704.5 643.1L1702.9 639.4L1701.3 635.7L1699.7 632.1L1698 628.5L1696.3 624.8L1694.5 621.3L1692.7 617.7L1690.9 614.1L1689 610.6L1687.1 607.1L1685.2 603.6L1683.2 600.1L1681.1 596.7L1679.1 593.3L1677 589.9L1674.8 586.5L1672.6 583.2L1670.3 579.9L1668 576.6L1665.7 573.4L1663.3 570.2L1660.8 567.1L1658.2 564L1655.6 560.9L1653 558L1650.3 555L1647.5 552.1L1644.7 549.3L1641.8 546.5L1638.9 543.7L1636 541L1633 538.4L1629.9 535.8L1626.8 533.3L1623.6 530.9L1620.3 528.6L1617 526.4L1613.7 524.2L1610.2 522.1L1606.8 520.1L1603.4 518.1L1599.9 516.1L1596.4 514.2L1592.9 512.2L1589.4 510.3L1585.8 508.4L1582.3 506.6L1578.8 504.8L1575.2 503L1571.6 501.2L1568 499.5L1564.4 497.8L1560.8 496.1L1557.1 494.4L1553.4 492.9L1549.7 491.3L1546 489.9L1542.3 488.5L1538.5 487.1L1534.7 485.9L1530.9 484.7L1527 483.6L1523.2 482.5L1519.4 481.4L1515.5 480.3L1511.7 479.3L1507.8 478.2L1504 477.1L1500.1 476.1L1496.2 475L1492.4 474L1488.5 473L1484.6 471.9L1480.8 470.9L1476.9 469.9L1473 468.9L1469.2 467.9L1465.3 466.9L1461.4 465.9L1457.6 464.9L1453.7 463.9L1449.8 462.9L1445.9 461.9L1442.1 461L1438.2 460L1434.3 459L1430.4 458.1L1426.5 457.1L1422.7 456.2L1418.8 455.2L1414.9 454.3L1411 453.4L1407.1 452.5L1403.2 451.6L1399.3 450.8L1395.4 449.9L1391.5 449.1L1387.6 448.2L1383.7 447.4L1379.7 446.6L1375.8 445.8L1371.9 445L1368 444.2L1364.1 443.5L1360.1 442.7L1356.2 442L1352.3 441.2L1348.4 440.5L1344.4 439.8L1340.5 439L1336.6 438.3L1332.6 437.6L1328.7 436.9L1324.8 436.1L1320.8 435.4L1316.9 434.7L1313 434L1309 433.3L1305.1 432.5L1301.2 431.8L1297.2 431.1L1293.3 430.4L1289.4 429.6L1285.4 428.9L1281.5 428.2L1277.6 427.5L1273.6 426.8L1269.7 426L1265.8 425.3L1261.9 424.6L1257.9 423.9L1254 423.2L1250 422.5L1246.1 421.8L1242.2 421.1L1238.2 420.4L1234.3 419.7L1230.4 419L1226.4 418.4L1222.5 417.7L1218.5 417L1214.6 416.3L1210.7 415.7L1206.7 415L1202.8 414.4L1198.8 413.7L1194.9 413L1190.9 412.4L1187 411.7L1183.1 411L1179.1 410.4L1175.2 409.7L1171.2 409L1167.3 408.4L1163.4 407.7L1159.4 407L1155.5 406.3L1151.5 405.6L1147.6 404.9L1143.7 404.2L1139.7 403.4L1135.8 402.7L1131.9 401.9L1128 401.2L1124 400.4L1120.1 399.6L1116.2 398.8L1112.3 398L1108.4 397.1L1104.5 396.2L1100.6 395.4L1096.7 394.5L1092.8 393.5L1088.9 392.6L1085 391.7L1081.2 390.7L1077.3 389.7L1073.4 388.7L1069.5 387.8L1065.7 386.8L1061.8 385.8L1057.9 384.8L1054 383.8L1050.2 382.8L1046.3 381.8L1042.4 380.8L1038.6 379.8L1034.7 378.9L1030.8 377.9L1026.9 377L1023 376.1L1019.1 375.1L1015.2 374.3L1011.3 373.4L1007.4 372.6L1003.5 371.7L999.6 370.9L995.7 370.2L991.7 369.4L987.8 368.7L983.9 368L979.9 367.3L976 366.6L972 366L968.1 365.3L964.1 364.7L960.2 364.2L956.2 363.6L952.3 363L948.3 362.5L944.3 362L940.4 361.5L936.4 361L932.4 360.6L928.5 360.1L924.5 359.7L920.5 359.3L916.5 358.9L912.5 358.5L908.6 358.2L904.6 357.8L900.6 357.5L896.6 357.2L892.6 356.9L888.6 356.6L884.7 356.3L880.7 356.1L876.7 355.8L872.7 355.6L868.7 355.4L864.7 355.1L860.7 354.9L856.7 354.7L852.7 354.5L848.7 354.3L844.7 354.2L840.7 354L836.8 353.8L832.8 353.6L828.8 353.5L824.8 353.3L820.8 353.1L816.8 353L812.8 352.8L808.8 352.7L804.8 352.5L800.8 352.4L796.8 352.2L792.8 352.1L788.8 351.9L784.8 351.8L780.8 351.7L776.8 351.5L772.8 351.4L768.8 351.2L764.8 351.1L760.8 350.9L756.9 350.8L752.9 350.6L748.9 350.5L744.9 350.3L740.9 350.1L736.9 349.9L732.9 349.8L728.9 349.6L724.9 349.4L720.9 349.1L716.9 348.9L712.9 348.6L708.9 348.4L705 348.1L701 347.8L697 347.5L693 347.2L689 346.8L685 346.5L681.1 346.1L677.1 345.7L673.1 345.3L669.1 344.9L665.1 344.5L661.2 344.1L657.2 343.6L653.2 343.2L649.3 342.7L645.3 342.2L641.3 341.8L637.3 341.3L633.4 340.8L629.4 340.3L625.4 339.8L621.5 339.3L617.5 338.8L613.5 338.3L609.6 337.8L605.6 337.3L601.6 336.8L597.7 336.3L593.7 335.8L589.8 335.3L585.8 334.8L581.8 334.3L577.9 333.8L573.9 333.3L569.9 332.8L565.9 332.3L562 331.9L558 331.4L554 330.9L550.1 330.5L546.1 330L542.1 329.6L538.1 329.2L534.2 328.7L530.2 328.3L526.2 327.9L522.2 327.5L518.3 327.1L514.3 326.6L510.3 326.2L506.3 325.8L502.4 325.4L498.4 325L494.4 324.6L490.4 324.2L486.5 323.8L482.5 323.4L478.5 323L474.5 322.6L470.5 322.2L466.6 321.8L462.6 321.4L458.6 321L454.6 320.6L450.7 320.2L446.7 319.7L442.7 319.3L438.7 318.9L434.8 318.5L430.8 318L426.8 317.6L422.8 317.2L418.9 316.7L414.9 316.3L410.9 315.9L406.9 315.4L403 315L399 314.5L395 314.1L391.1 313.6L387.1 313.2L383.1 312.7L379.1 312.3L375.2 311.8L371.2 311.3L367.2 310.9L363.3 310.4L359.3 309.9L355.3 309.4L351.3 309L347.4 308.5L343.4 308L339.4 307.6L335.5 307.1L331.5 306.6"/>
<path stroke="#008080" d="M331.7 377.3L335.6 377.9L339.6 378.6L343.5 379.2L347.5 379.9L351.4 380.5L355.4 381.2L359.3 381.8L363.3 382.5L367.2 383.2L371.2 383.8L375.1 384.5L379.1 385.2L383 385.9L387 386.6L390.9 387.2L394.8 387.9L398.8 388.6L402.7 389.3L406.7 390L410.6 390.7L414.5 391.4L418.5 392.1L422.4 392.7L426.4 393.4L430.3 394.1L434.3 394.7L438.2 395.4L442.2 396L446.1 396.7L450.1 397.3L454 397.9L458 398.5L461.9 399.1L465.9 399.7L469.8 400.3L473.8 400.9L477.8 401.4L481.7 402L485.7 402.5L489.7 403.1L493.6 403.6L497.6 404.1L501.6 404.6L505.5 405.1L509.5 405.6L513.5 406.1L517.5 406.6L521.4 407.1L525.4 407.5L529.4 408L533.3 408.5L537.3 409L541.3 409.4L545.3 409.9L549.2 410.4L553.2 410.9L557.2 411.4L561.1 411.9L565.1 412.3L569.1 412.8L573.1 413.3L577 413.8L581 414.3L585 414.8L589 415.3L592.9 415.8L596.9 416.2L600.9 416.7L604.8 417.2L608.8 417.7L612.8 418.2L616.8 418.6L620.7 419.1L624.7 419.6L628.7 420L632.7 420.5L636.6 420.9L640.6 421.4L644.6 421.8L648.6 422.2L652.5 422.7L656.5 423.1L660.5 423.5L664.5 423.9L668.5 424.3L672.4 424.7L676.4 425.1L680.4 425.5L684.4 425.9L688.4 426.3L692.4 426.6L696.3 427L700.3 427.4L704.3 427.8L708.3 428.2L712.3 428.5L716.3 428.9L720.2 429.3L724.2 429.7L728.2 430.1L732.2 430.4L736.2 430.8L740.2 431.2L744.1 431.6L748.1 432L752.1 432.4L756.1 432.8L760.1 433.3L764 433.7L768 434.1L772 434.5L776 435L780 435.4L783.9 435.9L787.9 436.4L791.9 436.8L795.8 437.3L799.8 437.8L803.8 438.3L807.8 438.8L811.7 439.4L815.7 439.9L819.7 440.4L823.6 441L827.6 441.5L831.5 442.1L835.5 442.6L839.5 443.2L843.4 443.8L847.4 444.3L851.3 444.9L855.3 445.5L859.3 446.1L863.2 446.7L867.2 447.3L871.1 447.9L875.1 448.4L879.1 449L883 449.6L887 450.2L890.9 450.7L894.9 451.3L898.9 451.9L902.8 452.4L906.8 453L910.8 453.5L914.7 454.1L918.7 454.6L922.7 455.1L926.6 455.6L930.6 456.1L934.6 456.6L938.5 457.1L942.5 457.6L946.5 458.1L950.5 458.5L954.4 459L958.4 459.4L962.4 459.8L966.4 460.3L970.3 460.7L974.3 461.1L978.3 461.5L982.3 461.8L986.3 462.2L990.3 462.5L994.2 462.9L998.2 463.2L1002.2 463.5L1006.2 463.8L1010.2 464.1L1014.2 464.4L1018.2 464.7L1022.2 465L1026.2 465.2L1030.2 465.5L1034.2 465.7L1038.2 466L1042.1 466.3L1046.1 466.5L1050.1 466.8L1054.1 467.1L1058.1 467.4L1062.1 467.7L1066.1 468L1070.1 468.3L1074.1 468.7L1078.1 469L1082 469.4L1086 469.8L1090 470.2L1094 470.7L1097.9 471.2L1101.9 471.7L1105.9 472.2L1109.8 472.7L1113.8 473.3L1117.8 473.9L1121.7 474.5L1125.7 475.2L1129.6 475.9L1133.5 476.6L1137.5 477.3L1141.4 478.1L1145.3 479L1149.2 479.9L1153.1 481L1156.9 482.1L1160.7 483.3L1164.5 484.7L1168.2 486.2L1171.8 487.8L1175.4 489.6L1178.9 491.5L1182.3 493.6L1185.6 495.9L1188.8 498.3L1192 500.7L1195.1 503.2L1198.2 505.8L1201.1 508.5L1204 511.3L1206.8 514.2L1209.4 517.2L1211.8 520.4L1214.2 523.6L1216.5 526.9L1218.7 530.2L1220.9 533.5L1223.2 536.9L1225.4 540.2L1227.4 543.6L1229.4 547.1L1231.2 550.7L1232.9 554.3L1234.5 558L1236.1 561.6L1237.6 565.4L1239 569.1L1240.4 572.9L1241.7 576.6L1242.9 580.4L1244.1 584.3L1245.3 588.1L1246.5 591.9L1247.6 595.8L1248.7 599.6L1249.8 603.5L1250.8 607.3L1251.8 611.2L1252.8 615.1L1253.7 619L1254.7 622.9L1255.6 626.8L1256.5 630.7L1257.3 634.6L1258.2 638.5L1259 642.4L1259.9 646.3L1260.7 650.2L1261.5 654.1L1262.3 658L1263.1 662L1263.9 665.9L1264.7 669.8L1265.5 673.7L1266.2 677.7L1267 681.6L1267.8 685.5L1268.5 689.4L1269.3 693.4L1270 697.3L1270.8 701.2L1271.5 705.2L1272.2 709.1L1273 713L1273.7 717L1274.4 720.9L1275.2 724.8L1275.9 728.8L1276.6 732.7L1277.4 736.6L1278.1 740.6L1278.8 744.5L1279.6 748.4L1280.3 752.4L1281 756.3L1281.8 760.2L1282.5 764.2L1283.3 768.1L1284 772L1284.8 776L1285.5 779.9L1286.2 783.8L1287 787.8L1287.7 791.7L1288.4 795.6L1289.1 799.6L1289.8 803.5L1290.5 807.5L1291.1 811.4L1291.8 815.4L1292.4 819.3L1293.1 823.3L1293.7 827.2L1294.3 831.2L1294.9 835.1L1295.5 839.1L1296.2 843L1296.8 847L1297.4 850.9L1298 854.9L1298.6 858.8L1299.2 862.8L1299.9 866.8L1300.5 870.7L1301.1 874.7L1301.8 878.6L1302.4 882.5L1303.1 886.5L1303.8 890.4L1304.5 894.4L1305.2 898.3L1305.9 902.3L1306.6 906.2L1307.3 910.1L1308 914.1L1308.8 918L1309.5 921.9L1310.3 925.9L1311.1 929.8L1311.9 933.7L1312.7 937.6L1313.5 941.5L1314.3 945.5L1315 949.4L1315.7 953.3L1316.5 957.3L1317.3 961.2L1318.1 965.1L1319 969L1320 972.9L1321.1 976.7L1322.3 980.5L1323.7 984.3L1325.4 987.9L1327.6 991.2L1331.2 992.6L1334.3 990.2L1336.3 986.7L1337.8 983L1339.1 979.2L1340.2 975.4L1341.2 971.5L1342 967.6L1342.9 963.7L1343.7 959.8L1344.5 955.8L1345.3 951.9L1346.1 948L1346.9 944.1L1347.7 940.2L1348.6 936.3L1349.4 932.4L1350.3 928.4L1351.1 924.5L1351.9 920.6L1352.7 916.7L1353.5 912.8L1354.3 908.9L1355.1 904.9L1355.9 901L1356.7 897.1L1357.5 893.2L1358.3 889.2L1359.1 885.3L1359.9 881.4L1360.7 877.5L1361.5 873.6L1362.3 869.6L1363.2 865.7L1364 861.8L1364.8 857.9L1365.6 854L1366.4 850.1L1367.2 846.1L1368 842.2L1368.8 838.3L1369.7 834.4L1370.5 830.5L1371.4 826.6L1372.3 822.7L1373.2 818.8L1374.1 814.9L1375 811L1375.9 807.1L1376.9 803.2L1377.9 799.3L1378.9 795.4L1379.9 791.6L1380.9 787.7L1381.9 783.8L1382.9 780L1384 776.1L1385 772.2L1386.2 768.4L1387.5 764.6L1389 760.9L1390.6 757.3L1392.4 753.7L1394.4 750.2L1396.5 746.8L1398.8 743.5L1401.3 740.4L1403.9 737.4L1406.7 734.5L1409.7 731.8L1412.7 729.3L1415.9 726.9L1419.3 724.7L1422.7 722.7L1426.3 720.9L1430 719.3L1433.8 718L1437.6 716.8L1441.5 715.8L1445.4 714.9L1449.3 714.1L1453.2 713.3L1457.1 712.5L1461.1 711.8L1465 711L1469 710.4L1472.9 709.7L1476.9 709.1L1480.8 708.5L1484.8 708L1488.8 707.6L1492.7 707.2L1496.7 706.8L1500.7 706.5L1504.7 706.2L1508.7 705.9L1512.7 705.7L1516.7 705.5L1520.7 705.3L1524.7 705.2L1528.7 705L1532.7 705L1536.7 704.9L1540.7 704.9L1544.7 704.9L1548.7 704.9L1552.7 705.1L1556.7 705.4L1560.7 705.8L1564.6 706.5L1568.5 707.4L1572.4 708.4L1576.2 709.7L1579.9 711.2L1583.5 712.8L1587.1 714.7L1590.5 716.7L1593.9 718.9L1597.1 721.2L1600.2 723.7L1603.2 726.4L1606.1 729.2L1608.9 732.1L1611.5 735L1614.1 738.1L1616.6 741.3L1618.9 744.5L1621.2 747.8L1623.4 751.2L1625.5 754.5L1627.6 758L1629.6 761.4L1631.6 764.9L1633.6 768.3L1635.6 771.8L1637.6 775.3L1639.6 778.8L1641.5 782.3L1643.5 785.8L1645.4 789.3L1647.2 792.8L1649.1 796.3L1650.9 799.9L1652.7 803.5L1654.5 807.1L1656.2 810.7L1657.9 814.3L1659.6 817.9L1661.2 821.6L1662.8 825.3L1664.4 829L1665.9 832.6L1667.4 836.3L1668.9 840.1L1670.4 843.8L1671.8 847.5L1673.3 851.2L1674.7 855L1676.1 858.8L1677.4 862.5L1678.8 866.3L1680.1 870.1L1681.4 873.8L1682.7 877.6L1683.9 881.4L1685.2 885.2L1686.5 889L1687.7 892.8L1688.9 896.6L1690.1 900.5L1691.3 904.3L1692.5 908.1L1693.7 911.9L1694.9 915.7L1696.1 919.5L1697.3 923.4L1698.5 927.2L1699.6 931L1700.8 934.8L1702 938.7L1703.2 942.5L1704.4 946.3L1705.5 950.1L1706.7 954L1707.9 957.8L1709.1 961.6L1710.3 965.4L1711.5 969.2L1712.7 973L1713.9 976.9L1715.2 980.7L1716.4 984.5L1717.7 988.3L1718.9 992.1L1720.2 995.9L1721.5 999.7L1722.8 1003.4L1724.1 1007.2L1725.4 1011L1726.7 1014.8L1728.1 1018.5L1729.5 1022.3L1730.9 1026L1732.3 1029.8L1733.7 1033.5L1735.1 1037.3L1736.6 1041L1738 1044.7L1739.5 1048.4L1741 1052.2L1742.5 1055.9L1744 1059.6L1745.5 1063.3L1747 1067L1748.5 1070.7L1750 1074.4L1751.6 1078.1L1753.1 1081.8L1754.6 1085.5L1754.6 1081.6L1754.6 1077.6L1754.6 1073.7L1754.6 1069.7L1754.6 1065.8L1754.6 1061.8L1754.7 1057.9L1754.7 1054L1754.7 1050L1754.7 1046.1L1754.7 1042.1L1754.7 1038.2L1754.7 1034.2L1754.7 1030.3L1754.7 1026.4L1754.7 1022.4L1754.7 1018.5L1754.7 1014.5L1754.7 1010.6L1754.8 1006.7L1754.8 1002.7L1754.8 998.8L1754.8 994.8L1754.8 990.9L1754.8 986.9L1754.8 983L1754.3 979L1753.7 975.1L1753.2 971.1L1752.6 967.2L1752.1 963.2L1751.5 959.2L1750.9 955.3L1750.3 951.3L1749.7 947.4L1749.1 943.4L1748.5 939.5L1747.8 935.5L1747.2 931.6L1746.5 927.6L1745.9 923.7L1745.2 919.8L1744.5 915.8L1743.8 911.9L1743.1 907.9L1742.4 904L1741.7 900.1L1741 896.1L1740.3 892.2L1739.6 888.3L1738.9 884.3L1738.1 880.4L1737.4 876.5L1736.6 872.5L1735.9 868.6L1735.1 864.7L1734.4 860.8L1733.6 856.8L1732.8 852.9L1732 849L1731.2 845.1L1730.4 841.2L1729.5 837.3L1728.7 833.4L1727.8 829.5L1726.9 825.6L1726 821.7L1725.1 817.8L1724.1 813.9L1723.1 810L1722.1 806.2L1721.1 802.3L1720.1 798.4L1719 794.6L1717.9 790.7L1716.8 786.9L1715.7 783L1714.6 779.2L1713.4 775.4L1712.2 771.6L1711 767.7L1709.8 763.9L1708.6 760.1L1707.4 756.3L1706.2 752.5L1705 748.7L1703.8 744.9L1702.6 741.1L1701.3 737.3L1700.1 733.5L1698.9 729.7L1697.6 725.9L1696.4 722L1695.2 718.2L1693.9 714.4L1692.7 710.6L1691.5 706.8L1690.2 703L1688.9 699.2L1687.7 695.5L1686.4 691.7L1685.1 687.9L1683.8 684.1L1682.4 680.3L1681.1 676.6L1679.7 672.8L1678.3 669.1L1676.9 665.3L1675.5 661.6L1674.1 657.9L1672.6 654.2L1671 650.5L1669.4 646.8L1667.7 643.2L1666 639.6L1664.2 636L1662.4 632.4L1660.6 628.9L1658.7 625.3L1656.9 621.8L1655 618.3L1653 614.8L1651.1 611.3L1649.1 607.8L1647.1 604.3L1645.1 600.9L1643.1 597.4L1641 594L1638.9 590.6L1636.8 587.2L1634.7 583.8L1632.5 580.5L1630.3 577.1L1628.1 573.8L1625.9 570.5L1623.6 567.2L1621.3 563.9L1618.9 560.7L1616.4 557.6L1613.9 554.5L1611.3 551.5L1608.6 548.5L1605.8 545.6L1603 542.8L1600.1 540L1597.2 537.3L1594.2 534.6L1591.2 532L1588.1 529.5L1585 527L1581.8 524.5L1578.6 522.1L1575.4 519.8L1572.1 517.5L1568.8 515.3L1565.4 513.1L1562 511L1558.6 508.9L1555.2 506.9L1551.7 504.9L1548.2 503L1544.6 501.1L1541 499.4L1537.4 497.7L1533.7 496.2L1530 494.7L1526.3 493.3L1522.5 492L1518.7 490.7L1514.9 489.5L1511.1 488.2L1507.3 487L1503.5 485.8L1499.7 484.6L1495.8 483.4L1492 482.2L1488.2 481.1L1484.4 479.9L1480.5 478.8L1476.7 477.7L1472.8 476.6L1469 475.6L1465.1 474.5L1461.3 473.5L1457.4 472.4L1453.5 471.4L1449.7 470.4L1445.8 469.4L1441.9 468.4L1438 467.4L1434.2 466.5L1430.3 465.5L1426.4 464.5L1422.5 463.6L1418.6 462.7L1414.7 461.7L1410.8 460.8L1406.9 459.9L1403.1 459L1399.2 458.1L1395.3 457.2L1391.4 456.4L1387.4 455.5L1383.5 454.7L1379.6 453.8L1375.7 453L1371.8 452.2L1367.9 451.3L1364 450.5L1360.1 449.7L1356.1 448.9L1352.2 448.2L1348.3 447.4L1344.4 446.6L1340.4 445.9L1336.5 445.1L1332.6 444.4L1328.7 443.6L1324.7 442.9L1320.8 442.2L1316.9 441.4L1312.9 440.7L1309 440L1305.1 439.3L1301.1 438.6L1297.2 437.9L1293.3 437.2L1289.3 436.5L1285.4 435.8L1281.4 435.1L1277.5 434.4L1273.6 433.7L1269.6 433L1265.7 432.4L1261.7 431.7L1257.8 431L1253.9 430.3L1249.9 429.6L1246 429L1242 428.3L1238.1 427.6L1234.2 426.9L1230.2 426.3L1226.3 425.6L1222.3 424.9L1218.4 424.2L1214.5 423.5L1210.5 422.9L1206.6 422.2L1202.6 421.5L1198.7 420.8L1194.8 420.2L1190.8 419.5L1186.9 418.8L1182.9 418.1L1179 417.5L1175 416.8L1171.1 416.2L1167.2 415.5L1163.2 414.9L1159.3 414.2L1155.3 413.5L1151.4 412.9L1147.4 412.2L1143.5 411.6L1139.6 410.9L1135.6 410.2L1131.7 409.5L1127.7 408.9L1123.8 408.2L1119.9 407.4L1115.9 406.7L1112 406L1108.1 405.2L1104.2 404.4L1100.2 403.7L1096.3 402.9L1092.4 402L1088.5 401.2L1084.6 400.4L1080.7 399.5L1076.8 398.6L1072.9 397.7L1069 396.8L1065.1 395.9L1061.2 395L1057.3 394L1053.4 393.1L1049.6 392.1L1045.7 391.1L1041.8 390.1L1038 389.1L1034.1 388.1L1030.2 387L1026.4 385.9L1022.5 384.8L1018.7 383.7L1014.9 382.4L1011.1 381.1L1007.4 379.8L1003.6 378.3L999.9 376.8L996.2 375.3L992.6 373.7L988.9 372.2L985.2 370.7L981.5 369.2L977.8 367.6L974.1 366.1L970.4 364.5L966.7 363L963.1 361.4L959.4 359.8L955.7 358.3L951.9 356.9L948.1 355.7L944.3 354.7L940.4 353.7L936.5 352.8L932.6 352L928.7 351.1L924.7 350.3L920.8 349.5L916.9 348.7L913 348L909 347.2L905.1 346.5L901.2 345.8L897.2 345.1L893.3 344.5L889.3 343.8L885.4 343.3L881.4 342.7L877.5 342.2L873.5 341.7L869.5 341.2L865.6 340.8L861.6 340.4L857.6 340.1L853.6 339.8L849.6 339.5L845.6 339.2L841.6 339L837.6 338.8L833.6 338.6L829.6 338.5L825.7 338.3L821.7 338.2L817.7 338.1L813.7 338L809.7 337.9L805.7 337.9L801.7 337.8L797.7 337.8L793.7 337.8L789.7 337.8L785.7 337.8L781.7 337.8L777.7 337.8L773.7 337.8L769.7 337.8L765.7 337.9L761.7 337.9L757.7 337.9L753.7 338L749.7 338L745.7 338L741.7 338L737.7 338L733.7 338.1L729.7 338.1L725.7 338.1L721.7 338L717.7 338L713.7 338L709.7 337.9L705.7 337.8L701.7 337.8L697.7 337.6L693.7 337.5L689.7 337.4L685.7 337.2L681.7 337.1L677.7 336.9L673.7 336.7L669.7 336.5L665.8 336.3L661.8 336.1L657.8 335.8L653.8 335.6L649.8 335.3L645.8 335.1L641.8 334.8L637.8 334.5L633.8 334.2L629.9 333.9L625.9 333.6L621.9 333.3L617.9 333L613.9 332.7L609.9 332.4L605.9 332L601.9 331.7L598 331.4L594 331.1L590 330.7L586 330.4L582 330L578 329.7L574.1 329.3L570.1 329L566.1 328.6L562.1 328.3L558.1 327.9L554.1 327.6L550.2 327.2L546.2 326.9L542.2 326.5L538.2 326.1L534.2 325.8L530.3 325.4L526.3 325.1L522.3 324.7L518.3 324.3L514.3 324L510.3 323.6L506.4 323.3L502.4 322.9L498.4 322.5L494.4 322.2L490.4 321.8L486.5 321.5L482.5 321.1L478.5 320.7L474.5 320.4L470.5 320L466.5 319.6L462.6 319.3L458.6 318.9L454.6 318.6L450.6 318.2L446.6 317.8L442.6 317.5L438.7 317.1L434.7 316.8L430.7 316.4L426.7 316.1L422.7 315.7L418.7 315.4L414.8 315.1L410.8 314.7L406.8 314.4L402.8 314.1L398.8 313.8L394.8 313.5L390.8 313.2L386.9 312.9L382.9 312.6L378.9 312.4L374.9 312.1L370.9 311.8L366.9 311.5L362.9 311.3L358.9 311L354.9 310.8L351 310.5L347 310.3L343 310L339 309.8L335 309.5L331 309.3"/>
</g>
<g id="ticklabels" filter="url(#bt)" font-family="'Liberation Sans', sans-serif" font-size="96" fill="#000" stroke="#fff" stroke-width="0.30">
<text transform="translate(496.8 1313.5) scale(0.970 1.070)" text-anchor="middle">0.1</text>
<text transform="translate(681.8 1313.5) scale(0.970 1.070)" text-anchor="middle">0.2</text>
<text transform="translate(866.8 1313.5) scale(0.970 1.070)" text-anchor="middle">0.3</text>
<text transform="translate(1051.8 1313.5) scale(0.970 1.070)" text-anchor="middle">0.4</text>
<text transform="translate(1236.8 1313.5) scale(0.970 1.070)" text-anchor="middle">0.5</text>
<text transform="translate(1421.8 1313.5) scale(0.970 1.070)" text-anchor="middle">0.6</text>
<text transform="translate(1606.9 1313.5) scale(0.970 1.070)" text-anchor="middle">0.7</text>
<text transform="translate(1791.9 1313.5) scale(0.970 1.070)" text-anchor="middle">0.8</text>
<text transform="translate(294.5 177.8) scale(0.970 1.070)" text-anchor="end">10</text>
<text transform="translate(294.5 424.5) scale(0.970 1.070)" text-anchor="end">0</text>
<text transform="translate(294.5 671.2) scale(0.970 1.070)" text-anchor="end">-10</text>
<text transform="translate(294.5 917.9) scale(0.970 1.070)" text-anchor="end">-20</text>
<text transform="translate(294.5 1164.6) scale(0.970 1.070)" text-anchor="end">-30</text>
</g>
<g id="titles" filter="url(#bt)" font-family="'Liberation Sans', sans-serif" font-size="130" fill="#000" stroke="#fff" stroke-width="0.70">
<text transform="translate(0 1458) scale(1 1.04)"><tspan x="983.5" font-style="italic">E</tspan> <tspan x="1100.5">/</tspan> <tspan x="1171">V</tspan></text>
<text transform="translate(114.3 632) rotate(-90) scale(1 1.04)"><tspan x="0" font-style="italic">I</tspan><tspan x="32">/</tspan><tspan x="70" dy="2" font-size="100">μ</tspan><tspan x="132" dy="-2">A</tspan></text>
</g>
<g id="annot" filter="url(#bt)" font-family="'Liberation Sans', sans-serif" font-size="120" fill="#000" text-anchor="middle" stroke="#000" stroke-width="0.50">
<text x="1029.5" y="664.5">a</text><text x="1031.5" y="979">d</text>
</g>
<g id="arrow" filter="url(#bt)"><line x1="1030" y1="683.5" x2="1031.4" y2="812" stroke="#000" stroke-width="7.6"/>
<path d="M1015.5 810 L1047 810 L1032 863.5 Z" fill="#000"/></g>
</svg>
</body>
</html>
